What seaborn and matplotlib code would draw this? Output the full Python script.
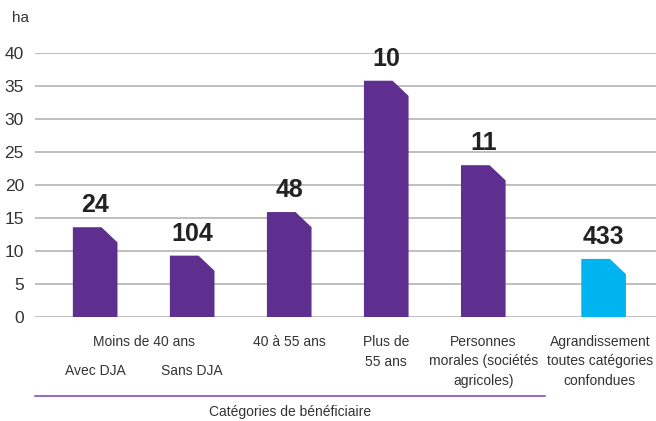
import numpy as np
import pandas as pd
import matplotlib
matplotlib.use("Agg")
import matplotlib.pyplot as plt
import matplotlib.transforms as mtransforms
from matplotlib.patches import Polygon
from matplotlib.lines import Line2D
import seaborn as sns

# data
categories = ["Avec DJA", "Sans DJA", "40 à 55 ans", "Plus de 55 ans",
              "Personnes morales", "Agrandissement"]
surfaces = [13.6, 9.3, 15.9, 35.8, 23.0, 8.8]
counts = ["24", "104", "48", "10", "11", "433"]
groups = ["installation"] * 5 + ["agrandissement"]
top_labels = ["", "", "40 à 55 ans", "Plus de\n55 ans",
              "Personnes\nmorales (sociétés\nagricoles)",
              "Agrandissement\ntoutes catégories\nconfondues"]
sub_labels = ["Avec DJA", "Sans DJA", "", "", "", ""]
y_ticks = [0, 5, 10, 15, 20, 25, 30, 35, 40]

# layout: bar centres (last one set apart)
x_pos = [0, 1, 2, 3, 4, 5.24]

df = pd.DataFrame({"x": x_pos, "surface": surfaces, "groupe": groups})

sns.set_style("white")
plt.rcParams["font.family"] = ["Liberation Sans", "DejaVu Sans"]

W, H = 656, 421
fig = plt.figure(figsize=(W / 100, H / 100), dpi=100)
ax = fig.add_axes([35 / W, (H - 317) / H, (W - 35) / W, (317 - 53) / H])

palette = {"installation": "#5f2f8f", "agrandissement": "#00b4ef"}
sns.barplot(data=df, x="x", y="surface", hue="groupe", palette=palette,
            native_scale=True, width=0.46, dodge=False, legend=False,
            saturation=1, ax=ax)

ax.set_xlim(-0.62, 5.78)
ax.set_ylim(0, 40)
ax.set_yticks(y_ticks)
ax.set_xticks([])
ax.set_xlabel("")
ax.set_ylabel("")
ax.grid(axis="y", color="#b4b4b4", linewidth=1.2)
ax.set_axisbelow(True)
for s in ax.spines.values():
    s.set_visible(False)
ax.tick_params(axis="y", length=0, pad=8, labelsize=12.5, labelcolor="#333333")

# replace rectangles with chamfered bars
cdx, cdy = 0.165, 2.3
for p in list(ax.patches):
    x0, y0 = p.get_x(), p.get_y()
    w, h = p.get_width(), p.get_height()
    if h <= 0:
        continue
    fc = p.get_facecolor()
    p.remove()
    poly = Polygon([(x0, y0), (x0, y0 + h), (x0 + w - cdx, y0 + h),
                    (x0 + w, y0 + h - cdy), (x0 + w, y0)],
                   closed=True, facecolor=fc, edgecolor="none", zorder=3)
    ax.add_patch(poly)

# count labels above bars
for xp, v, c in zip(x_pos, surfaces, counts):
    ax.text(xp, v + 1.5, c, ha="center", va="bottom", fontsize=18,
            fontweight="bold", color="#222222", clip_on=False)

# category labels below axis
lab_kw = dict(fontsize=10, color="#333333")
tr = mtransforms.blended_transform_factory(ax.transData, fig.transFigure)
for xp, t in zip(x_pos[:-1], top_labels[:-1]):
    if t:
        ax.text(xp, (H - 335) / H, t, transform=tr, ha="center", va="top",
                linespacing=1.5, **lab_kw)
# last label kept inside the right edge
fig.text(653 / W, (H - 335) / H, top_labels[-1], ha="right", va="top",
         multialignment="center", linespacing=1.5, **lab_kw)
ax.text(0.5, (H - 335) / H, "Moins de 40 ans", transform=tr, ha="center",
        va="top", **lab_kw)
for xp, t in zip(x_pos, sub_labels):
    if t:
        ax.text(xp, (H - 364) / H, t, transform=tr, ha="center", va="top",
                **lab_kw)

fig.add_artist(Line2D([35 / W, 545 / W], [(H - 396) / H] * 2,
                      transform=fig.transFigure, color="#9370c8", linewidth=1.5))
fig.text(290 / W, (H - 412) / H, "Catégories de bénéficiaire", ha="center",
         va="center", **lab_kw)
fig.text(12 / W, (H - 18) / H, "ha", ha="left", va="center", fontsize=11,
         color="#333333")

fig.savefig("out.png", dpi=100)
